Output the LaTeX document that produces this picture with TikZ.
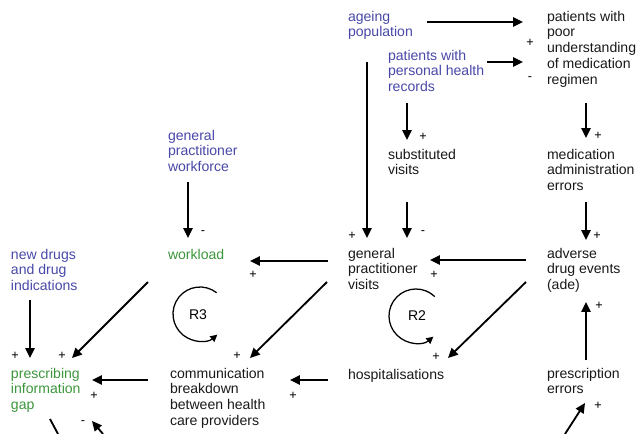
\documentclass[tikz,border=0pt]{standalone}
\usepackage{fontspec}
\setmainfont{Liberation Sans}
\usetikzlibrary{arrows.meta, calc}
\definecolor{extblue}{RGB}{72,72,168}
\definecolor{coregreen}{RGB}{60,150,60}
\tikzset{
	varbox/.style={anchor=north west, inner sep=0pt, outer sep=0pt, align=left,
		font=\fontsize{10}{11.2}\selectfont, execute at begin node=\strut, text=black!90},
	extbox/.style={varbox, text=extblue},
	corebox/.style={varbox, text=coregreen},
	causal/.style={-{Triangle[length=7pt,width=6.5pt]}, line width=1.3pt},
	polar/.style={inner sep=0pt, font=\fontsize{9}{9}\selectfont},
	rloop/.style={-{Triangle[length=5pt,width=5pt]}, line width=0.9pt},
	rlabel/.style={inner sep=0pt, font=\fontsize{10}{11.2}\selectfont},
}
\begin{document}
\begin{tikzpicture}[x=0.025cm, y=-0.025cm]
	\useasboundingbox (0,0) rectangle (641,434);
	% top row
	\node[extbox] (ageing) at (348,11) {ageing\\population};
	\node[varbox] (poor) at (547,11) {patients with\\poor\\understanding\\of medication\\regimen};
	\node[extbox] (records) at (388,50) {patients with\\personal health\\records};
	% second row
	\node[extbox] (workforce) at (168,130) {general\\practitioner\\workforce};
	\node[varbox] (subst) at (388,149) {substituted\\visits};
	\node[varbox] (mederr) at (547,149) {medication\\administration\\errors};
	% third row
	\node[extbox] (newdrugs) at (11,249) {new drugs\\and drug\\indications};
	\node[corebox] (workload) at (168,248) {workload};
	\node[varbox] (gpvisits) at (348,248) {general\\practitioner\\visits};
	\node[varbox] (ade) at (547,248) {adverse\\drug events\\(ade)};
	% bottom row
	\node[corebox] (gap) at (11,368) {prescribing\\information\\gap};
	\node[varbox] (comm) at (170,368) {communication\\breakdown\\between health\\care providers};
	\node[varbox] (hosp) at (348,368) {hospitalisations};
	\node[varbox] (rxerr) at (547,368) {prescription\\errors};
	% free ends at the lower edge
	\coordinate (gapout) at (58,434);
	\coordinate (gapin) at (103,434);
	\coordinate (rxin) at (565,434);

	% links
	\draw[causal] ($(ageing.north west)+(79,11)$) -- ($(poor.north west)+(-24,11)$)
		node[polar, at end, shift={(7,21)}] (pl1) {+};
	\draw[causal] ($(records.north west)+(99,12)$) -- ($(poor.north west)+(-24,51)$)
		node[polar, at end, shift={(7,17)}] (pl2) {-};
	\draw[causal] ($(ageing.north west)+(19,51)$) -- ($(gpvisits.north west)+(19,-10)$)
		node[polar, at end, shift={(-15,-2)}] (pl3) {+};
	\draw[causal] ($(records.north west)+(19,53)$) -- ($(subst.north west)+(19,-9)$)
		node[polar, at end, shift={(16,-3)}] (pl4) {+};
	\draw[causal] ($(subst.north west)+(19,53)$) -- ($(gpvisits.north west)+(59,-10)$)
		node[polar, at end, shift={(16,-5)}] (pl5) {-};
	\draw[causal] ($(poor.north west)+(39,92)$) -- ($(mederr.north west)+(39,-11)$)
		node[polar, at end, shift={(12,-2)}] (pl6) {+};
	\draw[causal] ($(mederr.north west)+(39,53)$) -- ($(ade.north west)+(39,-8)$)
		node[polar, at end, shift={(11,-4)}] (pl7) {+};
	\draw[causal] ($(workforce.north west)+(20,52)$) -- ($(workload.north west)+(20,-10)$)
		node[polar, at end, shift={(15,-5)}] (pl8) {-};
	\draw[causal] ($(gpvisits.north west)+(-20,13)$) -- ($(workload.north west)+(82,13)$)
		node[polar, at end, shift={(3,14)}] (pl9) {+};
	\draw[causal] ($(ade.north west)+(-21,12)$) -- ($(gpvisits.north west)+(82,12)$)
		node[polar, at end, shift={(4,15)}] (pl10) {+};
	\draw[causal] ($(newdrugs.north west)+(19,51)$) -- ($(gap.north west)+(19,-10)$)
		node[polar, at end, shift={(-15,-2)}] (pl11) {+};
	\draw[causal] ($(workload.north west)+(-20,34)$) -- ($(gap.north west)+(61,-10)$)
		node[polar, at end, shift={(-10,-2)}] (pl12) {+};
	\draw[causal] ($(gpvisits.north west)+(-21,34)$) -- ($(comm.north west)+(80,-10)$)
		node[polar, at end, shift={(-13,-2)}] (pl13) {+};
	\draw[causal] ($(ade.north west)+(-21,34)$) -- ($(hosp.north west)+(100,-10)$)
		node[polar, at end, shift={(-12,-1)}] (pl14) {+};
	\draw[causal] ($(comm.north west)+(-22,12)$) -- ($(gap.north west)+(81,12)$)
		node[polar, at end, shift={(2,16)}] (pl15) {+};
	\draw[causal] ($(hosp.north west)+(-20,12)$) -- ($(comm.north west)+(120,12)$)
		node[polar, at end, shift={(3,16)}] (pl16) {+};
	\draw[causal] ($(rxerr.north west)+(39,-8)$) -- ($(ade.north west)+(39,54)$)
		node[polar, at end, shift={(13,4)}] (pl17) {+};
	\draw[causal] (rxin) -- ($(rxerr.north west)+(38,35)$)
		node[polar, at end, shift={(13,3)}] (pl18) {+};
	\draw[line width=1.3pt] ($(gap.north west)+(39,51)$) -- (gapout);
	\draw[causal] (gapin) -- ($(gap.north west)+(81,53)$)
		node[polar, at end, shift={(-9,2)}] (pl19) {-};

	% reinforcing loops
	\node[rlabel] (r3) at (198,315) {R3};
	\coordinate (r3c) at (200,314);
	\draw[rloop] ($(r3c)+(-52:27)$) arc[start angle=-52, end angle=-310, radius=27];
	\node[rlabel] (r2) at (417,316) {R2};
	\coordinate (r2c) at (416,316);
	\draw[rloop] ($(r2c)+(-46:27)$) arc[start angle=-46, end angle=-310, radius=27];
\end{tikzpicture}
\end{document}
